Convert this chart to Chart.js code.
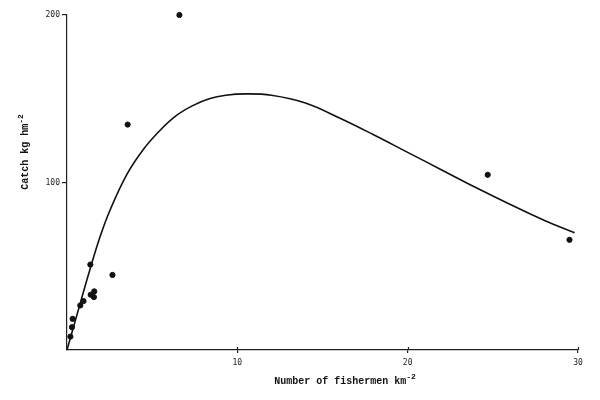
<!DOCTYPE html>
<html>
<head>
<meta charset="utf-8">
<script src="https://cdn.jsdelivr.net/npm/chart.js@4"></script>
<style>
  html, body { margin: 0; padding: 0; background: #fff; }
  #wrap { width: 600px; height: 400px; }
</style>
</head>
<body>
<div id="wrap"><canvas id="chart"></canvas></div>
<script>
// observed catch vs fishermen density
const fishermen = [0.2, 0.29, 0.33, 0.78, 0.97, 1.37, 1.39, 1.6, 1.58, 2.67, 3.56, 6.6, 24.7, 29.5];
const catchKg = [8, 13.6, 18.6, 26.6, 29.2, 51, 33, 35, 31.6, 44.8, 134.6, 200, 104.6, 65.8];

// fitted curve
const curveX = [0, 0.78, 1.36, 1.94, 2.53, 3.5, 4.47, 5.44, 6.41, 7.38, 8.35, 9.32, 10.5, 12, 14, 16, 18, 20, 22, 24, 26, 28, 29.8];
const curveY = [0, 28, 48.5, 67.6, 83.6, 104.6, 119.6, 130.9, 139.9, 145.9, 150, 152.1, 152.9, 152.1, 147.5, 138.5, 128.5, 118, 107.5, 97, 87, 77.5, 70];

const xTicks = [10, 20, 30];
const yTicks = [100, 200];

const xTitle = 'Number of fishermen km';
const yTitle = 'Catch kg hm';
const titleSup = '-2';

const pts = fishermen.map((x, i) => ({ x: x, y: catchKg[i] }));
const curve = curveX.map((x, i) => ({ x: x, y: curveY[i] }));

const titleFont = 'bold 10px "Liberation Mono", "DejaVu Sans Mono", monospace';
const supFont = 'bold 8px "Liberation Mono", "DejaVu Sans Mono", monospace';

// axis titles drawn by hand so they sit where the original has them,
// plus the little inner half of the x tick marks
const axisTitles = {
  id: 'axisTitles',
  afterDraw(chart) {
    const ctx = chart.ctx;
    const xs = chart.scales.x;
    const area = chart.chartArea;
    ctx.save();
    ctx.strokeStyle = '#222';
    ctx.lineWidth = 1.2;
    xTicks.forEach(v => {
      const px = Math.round(xs.getPixelForValue(v)) + 0.5;
      ctx.beginPath();
      ctx.moveTo(px, area.bottom);
      ctx.lineTo(px, area.bottom - 3);
      ctx.stroke();
    });

    const drawWithSup = (text, cx, cy) => {
      ctx.font = titleFont;
      const w1 = ctx.measureText(text).width;
      ctx.font = supFont;
      const w2 = ctx.measureText(titleSup).width;
      let x0 = cx - (w1 + w2) / 2;
      ctx.font = titleFont;
      ctx.textBaseline = 'middle';
      ctx.textAlign = 'left';
      ctx.fillText(text, x0, cy);
      ctx.font = supFont;
      ctx.fillText(titleSup, x0 + w1, cy - 4);
    };
    ctx.fillStyle = '#111';
    drawWithSup(xTitle, 345, 381);
    ctx.translate(25, 152);
    ctx.rotate(-Math.PI / 2);
    drawWithSup(yTitle, 0, 0);
    ctx.restore();
  }
};

const ctx = document.getElementById('chart').getContext('2d');
new Chart(ctx, {
  type: 'scatter',
  data: {
    datasets: [
      {
        data: curve,
        showLine: true,
        borderColor: '#111',
        borderWidth: 1.6,
        pointRadius: 0,
        tension: 0.4,
        fill: false
      },
      {
        data: pts,
        backgroundColor: '#111',
        borderColor: '#111',
        pointRadius: 2.6,
        clip: false
      }
    ]
  },
  options: {
    responsive: true,
    maintainAspectRatio: false,
    animation: false,
    layout: { padding: { left: 0, top: 15, right: 22, bottom: 0 } },
    plugins: {
      legend: { display: false },
      tooltip: { enabled: false }
    },
    scales: {
      x: {
        type: 'linear',
        min: 0,
        max: 30,
        afterFit(scale) { scale.height = 50; },
        afterBuildTicks(scale) { scale.ticks = xTicks.map(v => ({ value: v })); },
        border: { display: true, color: '#222', width: 1.2 },
        grid: { drawOnChartArea: false, tickLength: 3, color: '#222', lineWidth: 1.2 },
        ticks: {
          padding: 5,
          color: '#222',
          font: { family: '"DejaVu Sans Mono", monospace', size: 8 },
          maxRotation: 0
        }
      },
      y: {
        type: 'linear',
        min: 0,
        max: 200,
        afterFit(scale) { scale.width = 67; },
        afterBuildTicks(scale) { scale.ticks = yTicks.map(v => ({ value: v })); },
        border: { display: true, color: '#222', width: 1.2 },
        grid: { drawOnChartArea: false, tickLength: 5, color: '#222', lineWidth: 1.2 },
        ticks: {
          padding: 2,
          color: '#222',
          font: { family: '"DejaVu Sans Mono", monospace', size: 8 }
        }
      }
    }
  },
  plugins: [axisTitles]
});
</script>
</body>
</html>
